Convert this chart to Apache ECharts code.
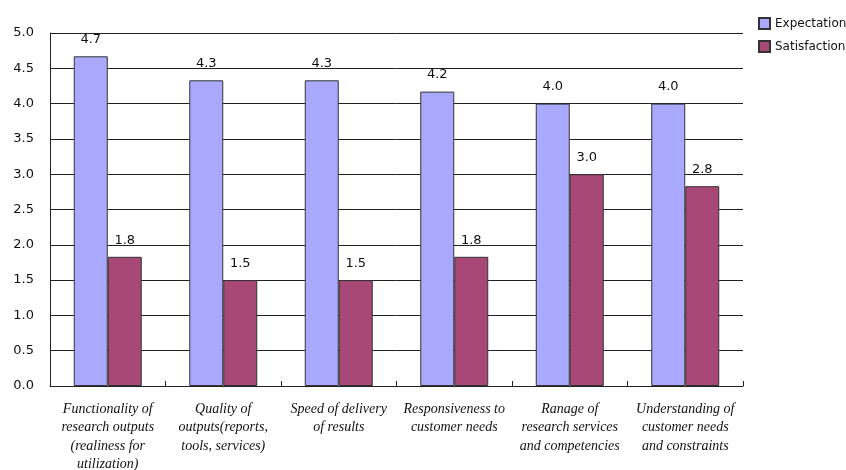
<!DOCTYPE html>
<html>
<head>
<meta charset="utf-8">
<script src="https://cdn.jsdelivr.net/npm/echarts@6/dist/echarts.min.js"></script>
<style>html,body{margin:0;padding:0;background:#fff}#c{width:846px;height:470px}</style>
</head>
<body>
<div id="c"></div>
<script>
var categories = [
  "Functionality of\nresearch outputs\n(realiness for\nutilization)",
  "Quality of\noutputs(reports,\ntools, services)",
  "Speed of delivery\nof results",
  "Responsiveness to\ncustomer needs",
  "Ranage of\nresearch services\nand competencies",
  "Understanding of\ncustomer needs\nand constraints"
];
var expectation = [4.67, 4.33, 4.33, 4.17, 4.0, 4.0];
var satisfaction = [1.83, 1.5, 1.5, 1.83, 3.0, 2.83];
var yTicks = { min: 0, max: 5, interval: 0.5 };

var chart = echarts.init(document.getElementById('c'), null, { renderer: 'canvas' });
var labelCfg = {
  show: true, position: 'top', distance: 10,
  fontFamily: 'DejaVu Sans', fontSize: 13, color: '#111',
  formatter: function (p) { return p.value.toFixed(1); }
};
chart.setOption({
  animation: false,
  backgroundColor: '#fff',
  grid: { left: 50, right: 103, top: 33, bottom: 84, containLabel: false, outerBoundsMode: 'none' },
  legend: {
    orient: 'vertical', left: 753, top: 12,
    itemWidth: 11, itemHeight: 11, itemGap: 10,
    icon: 'rect',
    textStyle: { fontFamily: 'DejaVu Sans', fontSize: 12, color: '#111' },
    data: ['Expectation', 'Satisfaction']
  },
  xAxis: {
    type: 'category', data: categories,
    axisLine: { show: true, lineStyle: { color: '#222', width: 1 } },
    axisTick: { show: true, inside: true, length: 5, alignWithLabel: false, lineStyle: { color: '#222' } },
    axisLabel: {
      interval: 0, margin: 14, lineHeight: 18.5,
      fontFamily: 'Liberation Serif', fontStyle: 'italic', fontSize: 14, color: '#111'
    }
  },
  yAxis: {
    type: 'value', min: yTicks.min, max: yTicks.max, interval: yTicks.interval,
    axisLine: { show: true, lineStyle: { color: '#222', width: 1 } },
    axisTick: { show: false },
    splitLine: { show: true, lineStyle: { color: '#222', width: 1 } },
    axisLabel: {
      margin: 16, fontFamily: 'DejaVu Sans', fontSize: 13, color: '#111',
      formatter: function (v) { return v.toFixed(1); }
    }
  },
  series: [
    {
      name: 'Expectation', type: 'bar', data: expectation,
      barWidth: 34, barGap: '0%',
      itemStyle: { color: '#a9a9ff', borderColor: '#333', borderWidth: 1 },
      label: labelCfg
    },
    {
      name: 'Satisfaction', type: 'bar', data: satisfaction,
      barWidth: 34, barGap: '0%',
      itemStyle: { color: '#a84876', borderColor: '#333', borderWidth: 1 },
      label: labelCfg
    }
  ]
});
</script>
</body>
</html>
